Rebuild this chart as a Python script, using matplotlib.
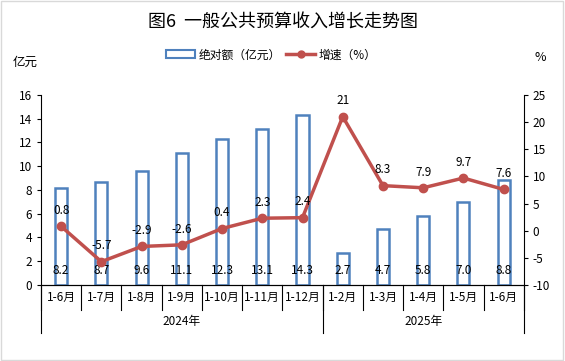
import matplotlib.pyplot as plt
import numpy as np
from matplotlib.lines import Line2D
from matplotlib.patches import Patch

plt.rcParams["font.family"] = ["Noto Sans CJK SC", "DejaVu Sans"]
plt.rcParams["axes.unicode_minus"] = False

months = ["1-6月", "1-7月", "1-8月", "1-9月", "1-10月", "1-11月", "1-12月",
          "1-2月", "1-3月", "1-4月", "1-5月", "1-6月"]
years = ["2024年", "2025年"]
year_counts = [7, 5]
amount = [8.2, 8.7, 9.6, 11.1, 12.3, 13.1, 14.3, 2.7, 4.7, 5.8, 7.0, 8.8]
growth = [0.8, -5.7, -2.9, -2.6, 0.4, 2.3, 2.4, 21, 8.3, 7.9, 9.7, 7.6]

blue = "#4F81BD"
red = "#C0504D"

fig = plt.figure(figsize=(5.65, 3.61), dpi=100)
ax = fig.add_axes([0.0726, 0.2105, 0.8544, 0.5265])
ax2 = ax.twinx()

x = np.arange(len(months))
ax.bar(x, amount, width=0.3, facecolor="white", edgecolor=blue, linewidth=1.8)
for xi, v in zip(x, amount):
    ax.text(xi, 1.2, f"{v:.1f}", ha="center", va="center", fontsize=8.5)

ax2.plot(x, growth, color=red, linewidth=2.5, marker="o", markersize=6)
for xi, v in zip(x, growth):
    ax2.text(xi, v + 2.9, f"{v:g}", ha="center", va="center", fontsize=8.5)

ax.set_xlim(-0.5, len(months) - 0.5)
ax.set_ylim(0, 16)
ax.set_yticks(range(0, 17, 2))
ax2.set_ylim(-10, 25)
ax2.set_yticks(range(-10, 26, 5))
ax2.set_zorder(ax.get_zorder() + 1)
ax2.patch.set_visible(False)

for a in (ax, ax2):
    a.spines["top"].set_visible(False)
    a.tick_params(axis="y", labelsize=8.5, length=3, width=0.8)
ax.spines["right"].set_visible(False)
ax2.spines["left"].set_visible(False)
ax.set_xticks([])

# category labels and separators below the axis
trans = ax.get_xaxis_transform()
for xi, m in zip(x, months):
    ax.text(xi, -0.065, m, transform=trans, ha="center", va="center", fontsize=8.5)
for b in np.arange(-0.5, len(months), 1.0):
    ax.plot([b, b], [0, -0.13], transform=trans, color="black", lw=0.8, clip_on=False)
start = -0.5
for yname, cnt in zip(years, year_counts):
    ax.text(start + cnt / 2, -0.19, yname, transform=trans, ha="center", va="center", fontsize=8.5)
    ax.plot([start, start], [0, -0.25], transform=trans, color="black", lw=0.8, clip_on=False)
    start += cnt
ax.plot([start, start], [0, -0.25], transform=trans, color="black", lw=0.8, clip_on=False)

fig.text(0.5, 0.94, "图6  一般公共预算收入增长走势图", ha="center", va="center", fontsize=13)
fig.text(0.045, 0.828, "亿元", ha="center", va="center", fontsize=9)
fig.text(0.957, 0.842, "%", ha="center", va="center", fontsize=9)

handles = [Patch(facecolor="white", edgecolor=blue, linewidth=1.5),
           Line2D([], [], color=red, linewidth=2.5, marker="o", markersize=5)]
fig.legend(handles, ["绝对额（亿元）", "增速（%）"], loc="center", bbox_to_anchor=(0.48, 0.848),
           ncol=2, frameon=False, fontsize=8.5, handlelength=2.4, columnspacing=0.5, handletextpad=0.3)

fig.patches.append(plt.Rectangle((0.002, 0.003), 0.995, 0.994, transform=fig.transFigure,
                                 fill=False, edgecolor="#D9D9D9", linewidth=1))

fig.savefig("out.png", dpi=100)
